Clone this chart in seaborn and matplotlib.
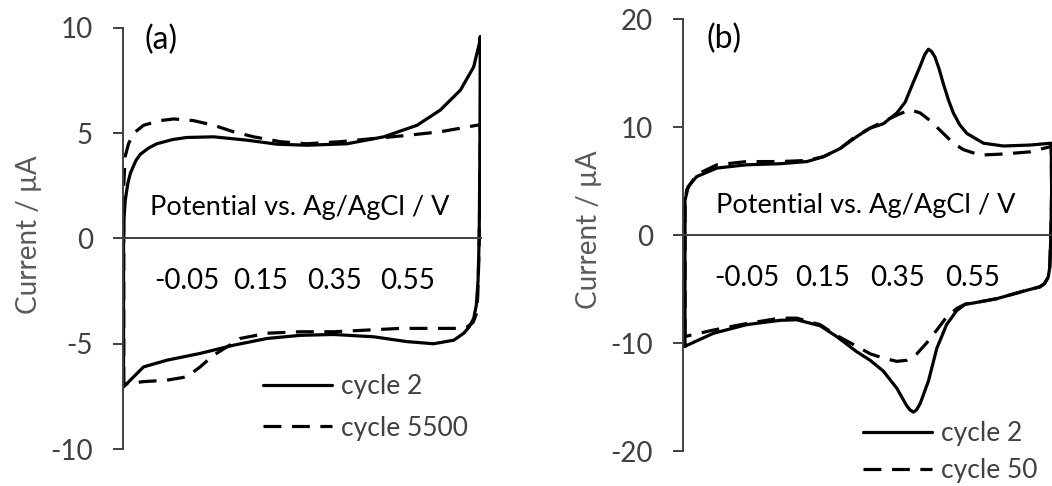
import matplotlib
matplotlib.use("Agg")
import matplotlib.pyplot as plt
import seaborn as sns
import pandas as pd

# ---------------- data ----------------
# Panel (a): cycle 2 (closed CV loop)
a_c2_v = [-0.2235, -0.2235, -0.222, -0.219, -0.212, -0.205, -0.19, -0.178, -0.155, -0.133,
          -0.09, -0.051, 0.022, 0.113, 0.194, 0.276, 0.385, 0.485, 0.576, 0.639,
          0.694, 0.730, 0.746, 0.748, 0.747, 0.745, 0.742, 0.737, 0.730, 0.718,
          0.703, 0.676, 0.621, 0.549, 0.458, 0.349, 0.258, 0.167, 0.076, -0.015,
          -0.105, -0.169, -0.196, -0.2235]
a_c2_i = [-7.05, 0.0, 1.0, 1.8, 2.6, 3.1, 3.7, 4.0, 4.3, 4.5,
          4.7, 4.8, 4.83, 4.67, 4.48, 4.43, 4.5, 4.83, 5.38, 6.1,
          7.05, 8.15, 9.3, 9.6, 4.0, 0.0, -2.0, -3.2, -3.8, -4.2,
          -4.5, -4.83, -5.0, -4.9, -4.67, -4.56, -4.6, -4.75, -5.07, -5.46,
          -5.78, -6.1, -6.57, -7.05]
# Panel (a): cycle 5500
a_c5500_v = [-0.223, -0.223, -0.219, -0.210, -0.196, -0.169, -0.124, -0.087, -0.033, 0.022,
             0.076, 0.131, 0.203, 0.276, 0.367, 0.458, 0.549, 0.639, 0.739, 0.748,
             0.747, 0.744, 0.741, 0.737, 0.728, 0.712, 0.694, 0.621, 0.530, 0.440,
             0.349, 0.258, 0.167, 0.094, 0.058, 0.022, -0.015, -0.051, -0.105, -0.169,
             -0.214, -0.223]
a_c5500_i = [-6.95, 2.5, 3.9, 4.5, 5.0, 5.38, 5.6, 5.68, 5.6, 5.38,
             5.07, 4.83, 4.6, 4.5, 4.6, 4.75, 4.9, 5.07, 5.38, 5.4,
             2.0, -1.0, -2.8, -3.6, -4.0, -4.2, -4.27, -4.27, -4.27, -4.35,
             -4.43, -4.43, -4.5, -4.75, -5.15, -5.54, -6.1, -6.57, -6.73, -6.8,
             -6.9, -6.95]

# Panel (b): cycle 2
b_c2_v = [-0.2147, -0.2147, -0.206, -0.184, -0.130, -0.051, 0.038, 0.109, 0.153, 0.197,
          0.241, 0.277, 0.312, 0.348, 0.370, 0.390, 0.4095, 0.422, 0.4316, 0.440, 0.449, 0.460,
          0.4715, 0.485, 0.498, 0.515,
          0.534, 0.578, 0.631, 0.702, 0.758, 0.759, 0.757, 0.754, 0.750, 0.740,
          0.728, 0.684, 0.613, 0.551, 0.530, 0.507, 0.480, 0.454, 0.432, 0.410,
          0.400, 0.392, 0.383, 0.374, 0.348, 0.312, 0.277, 0.241, 0.188, 0.144, 0.082, 0.038,
          -0.051, -0.139, -0.2147]
b_c2_i = [-10.3, 3.2, 4.5, 5.4, 6.2, 6.5, 6.6, 6.8, 7.25, 8.0,
          9.1, 9.9, 10.3, 11.3, 12.3, 14.0, 15.6, 16.7, 17.2, 17.0, 16.5, 15.4,
          14.0, 12.5, 11.3, 10.2,
          9.4, 8.5, 8.24, 8.33, 8.5, 4.0, 0.0, -3.0, -3.9, -4.5,
          -4.8, -5.2, -5.9, -6.3, -6.4, -7.0, -8.3, -10.5, -13.5, -15.6,
          -16.2, -16.4, -16.2, -15.8, -14.2, -12.6, -11.6, -10.8, -9.4, -8.4, -7.85, -7.9,
          -8.3, -9.1, -10.3]
# Panel (b): cycle 50
b_c50_v = [-0.2147, -0.2147, -0.21, -0.184, -0.130, -0.051, 0.038, 0.109, 0.153, 0.197,
           0.241, 0.277, 0.312, 0.348, 0.383, 0.410, 0.436, 0.4715, 0.498, 0.525,
           0.569, 0.631, 0.702, 0.758, 0.759, 0.757, 0.754, 0.750, 0.740, 0.728,
           0.684, 0.613, 0.551, 0.530, 0.507, 0.480, 0.454, 0.427, 0.401, 0.374,
           0.348, 0.312, 0.277, 0.241, 0.188, 0.144, 0.082, 0.038, -0.051, -0.139,
           -0.2147]
b_c50_i = [-9.4, 3.0, 4.2, 5.6, 6.5, 6.8, 6.8, 6.9, 7.25, 8.0,
           9.2, 9.9, 10.5, 11.1, 11.6, 11.3, 10.6, 9.4, 8.5, 7.9,
           7.4, 7.5, 7.7, 8.2, 4.0, 0.0, -3.0, -3.9, -4.5, -4.8,
           -5.2, -5.9, -6.3, -6.4, -6.8, -7.6, -8.8, -10.0, -11.0, -11.6,
           -11.7, -11.4, -11.0, -10.3, -9.3, -8.3, -7.7, -7.7, -8.2, -8.8,
           -9.4]

x_ticks = [-0.05, 0.15, 0.35, 0.55]
x_tick_labels = ["-0.05", "0.15", "0.35", "0.55"]
a_y_ticks = [-10, -5, 0, 5, 10]
b_y_ticks = [-20, -10, 0, 10, 20]
panel_labels = ["(a)", "(b)"]
a_series = ["cycle 2", "cycle 5500"]
b_series = ["cycle 2", "cycle 50"]
x_label = "Potential vs. Ag/AgCl / V"
y_label = "Current / µA"

# ---------------- style ----------------
sns.set_theme(style="white")
FONT = ["Lato", "DejaVu Sans"]
plt.rcParams["font.family"] = FONT
TXT = "#404040"
SPINE = "#404040"
FS = 20

W, H = 1052, 486
fig = plt.figure(figsize=(W / 100, H / 100), dpi=100)


def px_axes(l, r, t, b):
    return fig.add_axes([l / W, 1 - b / H, (r - l) / W, (b - t) / H])


ax_a = px_axes(123, 481, 28, 449)
ax_b = px_axes(683, 1052, 19, 451)

dash = (0, (5.6, 3.3))

df_a = [pd.DataFrame({"v": a_c2_v, "i": a_c2_i}), pd.DataFrame({"v": a_c5500_v, "i": a_c5500_i})]
df_b = [pd.DataFrame({"v": b_c2_v, "i": b_c2_i}), pd.DataFrame({"v": b_c50_v, "i": b_c50_i})]


def draw(ax, dfs, names, xlim, ylim, yticks, label, label_xy, xlab_y, ylab_coords,
         leg_anchor, leg_spacing):
    styles = ["-", dash]
    for d, nm, ls in zip(dfs, names, styles):
        sns.lineplot(data=d, x="v", y="i", sort=False, estimator=None, ax=ax,
                     color="black", lw=2.3, linestyle=ls, label=nm)
    ax.set_xlim(*xlim)
    ax.set_ylim(*ylim)
    for s in ["top", "right"]:
        ax.spines[s].set_visible(False)
    ax.spines["left"].set_color(SPINE)
    ax.spines["left"].set_linewidth(1.4)
    ax.spines["bottom"].set_position(("data", 0))
    ax.spines["bottom"].set_color(SPINE)
    ax.spines["bottom"].set_linewidth(1.4)
    ax.set_xticks(x_ticks)
    ax.set_xticklabels(x_tick_labels)
    ax.set_yticks(yticks)
    ax.set_yticklabels([str(t) for t in yticks])
    ax.tick_params(axis="x", direction="out", length=8.5, width=1.4, color=SPINE,
                   pad=13, labelsize=FS, labelcolor="black")
    ax.tick_params(axis="y", direction="out", length=7.2, width=1.4, color=SPINE,
                   pad=14.4, labelsize=FS, labelcolor=TXT, left=True)
    ax.set_xlabel("")
    ax.set_ylabel(y_label, fontsize=FS, color="#595959")
    ax.yaxis.set_label_coords(*ylab_coords)
    ax.text(0.494, xlab_y, x_label, transform=ax.transAxes, ha="center",
            va="center", fontsize=FS - 0.5, color="black")
    ax.text(label_xy[0], label_xy[1], label, transform=ax.transAxes, ha="center",
            va="center", fontsize=23, color="black")
    ax.legend(loc="center left", bbox_to_anchor=leg_anchor, bbox_transform=fig.transFigure,
              frameon=False, fontsize=19, handlelength=2.6, handletextpad=0.35,
              labelspacing=leg_spacing, borderpad=0, borderaxespad=0,
              labelcolor=TXT)


draw(ax_a, df_a, a_series, (-0.225, 0.75), (-10, 10), a_y_ticks, panel_labels[0],
     ((161 - 123) / 358, (449 - 40) / 421), (449 - 207) / 421, (-0.226, 0.508),
     (263 / W, 1 - 407.5 / H), 0.62)
draw(ax_b, df_b, b_series, (-0.22, 0.76), (-20, 20), b_y_ticks, panel_labels[1],
     ((724 - 683) / 369, (451 - 39) / 432), (451 - 205) / 432, (-0.2195, 0.5116),
     (863 / W, 1 - 452 / H), 0.45)

fig.savefig("out.png", dpi=100)
